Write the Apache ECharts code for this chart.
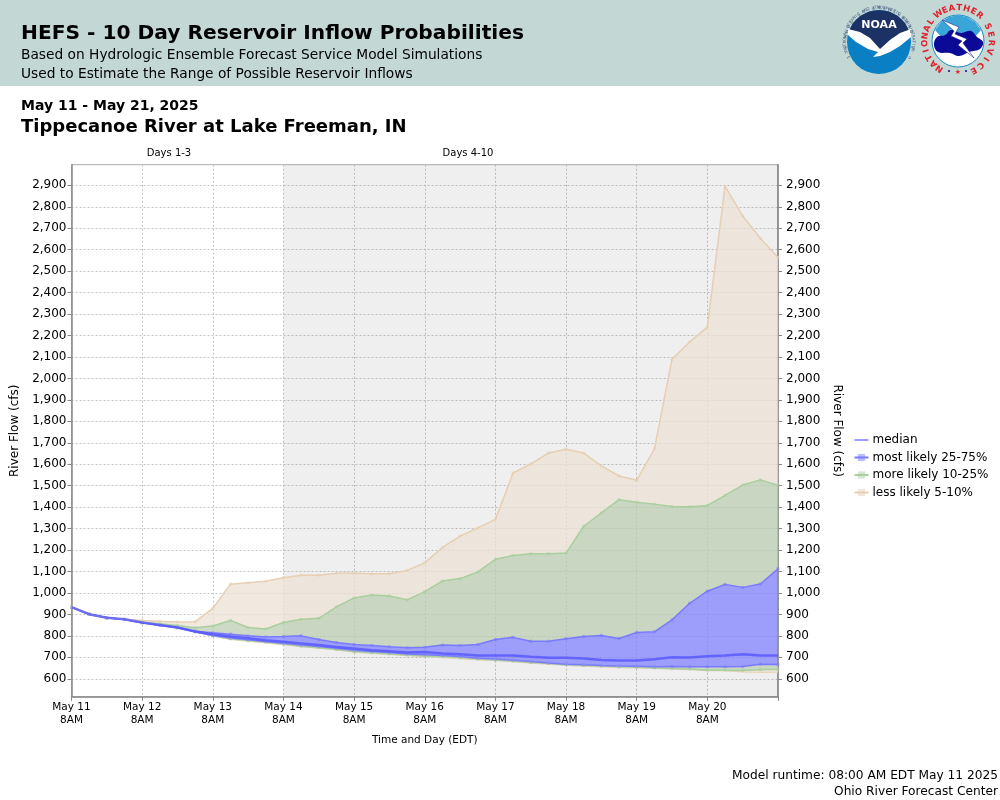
<!DOCTYPE html>
<html>
<head>
<meta charset="utf-8">
<title>HEFS Reservoir Inflow</title>
<script src="https://cdn.jsdelivr.net/npm/echarts@6/dist/echarts.min.js"></script>
<style>
  html, body { margin: 0; padding: 0; background: #fff; }
  #chart { width: 1000px; height: 800px; }
</style>
</head>
<body>
<div id="chart"></div>
<script>
// 6-hourly steps from May 11 8AM
const days = ['May 11', 'May 12', 'May 13', 'May 14', 'May 15', 'May 16', 'May 17', 'May 18', 'May 19', 'May 20', 'May 21']
const stepsPerDay = 4
const yTicks = [600, 700, 800, 900, 1000, 1100, 1200, 1300, 1400, 1500, 1600, 1700, 1800, 1900, 2000, 2100, 2200, 2300, 2400, 2500, 2600, 2700, 2800, 2900]

const p5 = [934, 901, 884, 876, 861, 850, 838, 819, 800, 784, 776, 768, 760, 750, 743, 735, 725, 719, 714, 709, 704, 700, 695, 689, 685, 680, 674, 669, 663, 659, 656, 653, 651, 649, 646, 643, 639, 638, 633, 631, 632]
const p10 = [934, 901, 884, 876, 861, 850, 838, 819, 800, 786, 778, 770, 762, 752, 745, 737, 727, 721, 716, 711, 706, 703, 698, 692, 688, 682, 676, 671, 665, 662, 659, 656, 654, 650, 648, 645, 640, 640, 638, 642, 644]
const p25 = [934, 901, 884, 876, 861, 850, 838, 819, 802, 790, 782, 774, 766, 757, 750, 742, 733, 727, 722, 716, 712, 708, 704, 696, 692, 686, 680, 674, 668, 665, 662, 660, 658, 656, 657, 656, 656, 656, 657, 668, 666]
const p50 = [934, 901, 884, 877, 862, 851, 839, 820, 808, 797, 789, 780, 773, 765, 757, 748, 741, 733, 728, 722, 725, 718, 714, 708, 708, 709, 703, 698, 698, 694, 688, 685, 685, 691, 700, 699, 705, 709, 714, 709, 709]
const p75 = [934, 901, 884, 877, 862, 851, 840, 822, 814, 808, 800, 795, 797, 800, 783, 769, 760, 755, 749, 745, 747, 757, 755, 760, 783, 793, 775, 775, 787, 797, 802, 788, 816, 819, 875, 952, 1008, 1040, 1026, 1042, 1113]
const p90 = [934, 901, 884, 878, 865, 856, 848, 838, 846, 872, 839, 832, 862, 877, 882, 935, 977, 990, 986, 968, 1006, 1056, 1067, 1098, 1157, 1175, 1183, 1183, 1186, 1311, 1373, 1435, 1423, 1414, 1403, 1402, 1408, 1455, 1503, 1527, 1502]
const p95 = [934, 901, 884, 878, 872, 868, 865, 866, 928, 1041, 1047, 1055, 1071, 1083, 1083, 1092, 1092, 1089, 1089, 1105, 1140, 1212, 1265, 1303, 1343, 1559, 1601, 1652, 1670, 1652, 1592, 1545, 1525, 1670, 2090, 2170, 2239, 2895, 2757, 2653, 2563]

const FONT = '"DejaVu Sans", sans-serif'
const BLUE = '#7a7aff', GREEN = '#a9cf9e', TAN = '#e6cfb2'
const AREA_BLUE = 'rgba(130,130,255,0.75)', AREA_GREEN = 'rgba(187,206,179,0.75)', AREA_TAN = 'rgba(236,226,212,0.75)'
const GRID_LINE = { color: '#c6c6c6', type: [2, 2], width: 1 }

const categories = p5.map((_, i) => i)
const isDayStep = (i) => i % stepsPerDay === 0
const diff = (top, bottom) => top.map((v, i) => v - bottom[i])

function band(name, values, lineColor, areaColor) {
    return {
        name, type: 'line', stack: 'range', data: values, z: 3,
        symbol: 'rect', symbolSize: 3, showSymbol: true,
        itemStyle: { color: lineColor, opacity: 0.5 },
        lineStyle: { color: lineColor, width: 1.5 },
        areaStyle: { color: areaColor, opacity: 1 },
        emphasis: { disabled: true }
    }
}

function yAxis(position, nameRotate) {
    return {
        type: 'value', position, min: 516, max: 2996,
        name: 'River Flow (cfs)', nameLocation: 'middle', nameGap: 47, nameRotate,
        nameTextStyle: { fontFamily: FONT, fontSize: 12, color: '#000' },
        axisLine: { show: true, lineStyle: { color: '#888', width: 1.5 } },
        axisTick: { show: true, length: 4, customValues: yTicks, lineStyle: { color: '#888' } },
        axisLabel: {
            customValues: yTicks, margin: position === 'left' ? 5 : 8, fontFamily: FONT, fontSize: 12, color: '#000',
            padding: [3, 0, 0, 0],
            formatter: (v) => v.toLocaleString('en-US')
        },
        splitLine: { show: position === 'left', lineStyle: GRID_LINE }
    }
}

// text placed around a circle, for the two logos
function ringText(str, cx, cy, r, startDeg, stepDeg, style, inward) {
    return str.split('').map((ch, i) => {
        const a = (startDeg + i * stepDeg) * Math.PI / 180
        return {
            type: 'text', x: cx + r * Math.sin(a), y: cy - r * Math.cos(a),
            rotation: inward ? Math.PI - a : -a,
            style: Object.assign({ text: ch, align: 'center', verticalAlign: 'middle', fontFamily: FONT }, style)
        }
    })
}

function label(text, x, y, size, extra) {
    return {
        type: 'text', x, y,
        style: Object.assign({ text, fontFamily: FONT, fontSize: size, fill: '#000', verticalAlign: 'middle' }, extra)
    }
}

function shape(points, style, smooth) {
    return { type: 'polygon', shape: { points, smooth: smooth || 0 }, style }
}

const noaaLogo = [
    { type: 'circle', shape: { cx: 879, cy: 42, r: 32 }, style: { fill: '#0a7fc4' } },
    shape([[849, 31], [853, 23], [860, 16], [869, 11.5], [879, 10], [889, 11.5], [898, 16], [905, 23], [909, 31], [892, 38], [880, 50], [868, 38]], { fill: '#1c3264' }),
    shape([[848, 29], [860, 32], [870, 38], [880, 49], [890, 40], [900, 33], [911, 29], [911, 37], [900, 46], [890, 52], [880, 56], [873, 57], [878, 52], [868, 49], [856, 42], [848, 35]], { fill: '#fff' }),
    { type: 'text', x: 879, y: 25, style: { text: 'NOAA', align: 'center', verticalAlign: 'middle', fontFamily: FONT, fontWeight: 'bold', fontSize: 11, fill: '#fff' } },
    ...ringText('NATIONAL OCEANIC AND ATMOSPHERIC ADMINISTRATION', 879, 42, 34.5, -104, 4.5, { fontSize: 4, fill: '#4a6080' }),
    ...ringText('U.S. DEPARTMENT OF COMMERCE', 879, 42, 34.5, 117, -9, { fontSize: 4, fill: '#4a6080' }, true)
]

const nwsLogo = [
    { type: 'circle', shape: { cx: 958, cy: 41, r: 26 }, style: { fill: '#fff', stroke: '#1a8ac4', lineWidth: 1 } },
    shape([[935, 30], [941, 22], [949, 17], [958, 15], [967, 17], [975, 22], [981, 30], [974, 38], [942, 38]], { fill: '#3aa6d8' }),
    shape([[934, 45], [937, 37], [945, 35], [951, 30], [961, 33], [971, 31], [977, 37], [983, 42], [980, 49], [969, 52], [959, 56], [950, 53], [938, 52]], { fill: '#0a0a96' }, 0.4),
    shape([[942, 20], [959, 27], [955, 34], [967, 39], [963, 43], [974, 58], [958, 45], [962, 41], [951, 36], [954, 31]], { fill: '#fff', stroke: '#0a0a96', lineWidth: 0.5 }),
    ...ringText('NATIONAL', 958, 41, 33, -146, 13, { fontSize: 8.5, fontWeight: 'bold', fill: '#e0202a' }),
    ...ringText('WEATHER', 958, 41, 33, -36, 12.7, { fontSize: 8.5, fontWeight: 'bold', fill: '#e0202a' }),
    ...ringText('SERVICE', 958, 41, 33, 64, 14.7, { fontSize: 8.5, fontWeight: 'bold', fill: '#e0202a' }),
    { type: 'text', x: 958, y: 72, style: { text: '★', align: 'center', verticalAlign: 'middle', fontFamily: FONT, fontSize: 7, fill: '#e0202a' } },
    { type: 'circle', shape: { cx: 949, cy: 71, r: 1 }, style: { fill: '#0a0a96' } },
    { type: 'circle', shape: { cx: 966, cy: 71, r: 1 }, style: { fill: '#0a0a96' } }
]

const chart = echarts.init(document.getElementById('chart'), null, { width: 1000, height: 800 })

chart.setOption({
    animation: false,
    backgroundColor: '#fff',
    grid: { left: 71.5, right: 222, top: 164.7, bottom: 103.2, show: true, borderColor: '#aaa', borderWidth: 1, outerBoundsMode: 'none' },
    legend: {
        orient: 'vertical', left: 853.5, top: 434, padding: 0,
        itemWidth: 14, itemHeight: 9, itemGap: 5.5,
        textStyle: { fontFamily: FONT, fontSize: 12, color: '#000', padding: [0, 0, 0, -1] },
        selectedMode: false,
        data: [
            { name: 'median', icon: 'path://M0 0h0.01v0.01H0z M0 3.7h14v1.6H0z M14 9h0.01v0.01H14z' },
            'most likely 25-75%', 'more likely 10-25%', 'less likely 5-10%'
        ]
    },
    xAxis: {
        type: 'category', data: categories, boundaryGap: false,
        name: 'Time and Day (EDT)', nameLocation: 'middle', nameGap: 38,
        nameTextStyle: { fontFamily: FONT, fontSize: 10.5, color: '#000' },
        axisLine: { onZero: false, lineStyle: { color: '#888', width: 1.5 } },
        axisTick: { interval: (i) => isDayStep(i), length: 4, lineStyle: { color: '#888' } },
        axisLabel: {
            interval: (i) => isDayStep(i) && i < 40, margin: 4, lineHeight: 13,
            fontFamily: FONT, fontSize: 10.5, color: '#000',
            formatter: (v) => days[v / stepsPerDay] + '\n8AM'
        },
        splitLine: { show: true, interval: (i) => isDayStep(i), lineStyle: GRID_LINE }
    },
    yAxis: [yAxis('left', 90), yAxis('right', -90)],
    series: [
        {
            name: 'base', type: 'line', stack: 'range', data: p5, z: 1,
            symbol: 'none', lineStyle: { color: TAN, width: 1.5 },
            markArea: {
                silent: true, z: 1,
                itemStyle: { color: 'rgba(0,0,0,0.063)' },
                data: [[{ xAxis: 12 }, { xAxis: 40 }]]
            }
        },
        band('tan low', diff(p10, p5), GREEN, AREA_TAN),
        band('green low', diff(p25, p10), BLUE, AREA_GREEN),
        band('most likely 25-75%', diff(p75, p25), BLUE, AREA_BLUE),
        band('more likely 10-25%', diff(p90, p75), GREEN, AREA_GREEN),
        band('less likely 5-10%', diff(p95, p90), TAN, AREA_TAN),
        {
            name: 'median', type: 'line', data: p50, z: 4, symbol: 'none',
            lineStyle: { color: 'rgba(85,85,255,0.8)', width: 2.5 },
            itemStyle: { color: BLUE }
        }
    ],
    graphic: [
        { type: 'rect', z: -1, shape: { x: 0, y: 0, width: 1000, height: 86 }, style: { fill: '#c3d8d5' } },
        label('HEFS - 10 Day Reservoir Inflow Probabilities', 21, 34, 20.2, { fontWeight: 'bold' }),
        label('Based on Hydrologic Ensemble Forecast Service Model Simulations', 21, 55, 13.75),
        label('Used to Estimate the Range of Possible Reservoir Inflows', 21, 74, 13.75),
        label('May 11 - May 21, 2025', 21, 106, 14, { fontWeight: 'bold' }),
        label('Tippecanoe River at Lake Freeman, IN', 21, 127, 18, { fontWeight: 'bold' }),
        label('Days 1-3', 169, 153.5, 10, { align: 'center' }),
        label('Days 4-10', 468, 153.5, 10, { align: 'center' }),
        label('Model runtime: 08:00 AM EDT May 11 2025', 998, 776, 12.2, { align: 'right' }),
        label('Ohio River Forecast Center', 998, 792, 12.2, { align: 'right' }),
        ...noaaLogo,
        ...nwsLogo
    ]
})

window.addEventListener('resize', () => chart.resize())
</script>
</body>
</html>
